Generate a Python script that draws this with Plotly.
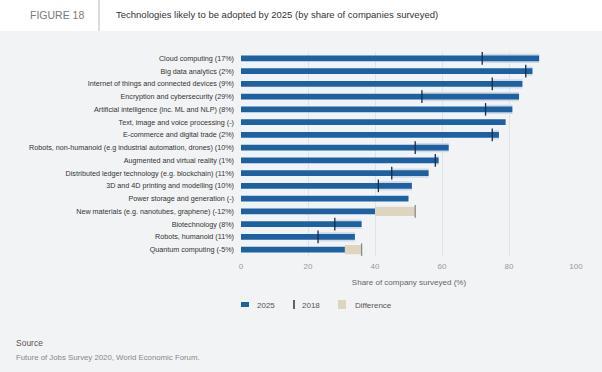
import plotly.graph_objects as go

categories = [
    "Cloud computing (17%)",
    "Big data analytics (2%)",
    "Internet of things and connected devices (9%)",
    "Encryption and cybersecurity (29%)",
    "Artificial intelligence (inc. ML and NLP) (8%)",
    "Text, image and voice processing (-)",
    "E-commerce and digital trade (2%)",
    "Robots, non-humanoid (e.g industrial automation, drones) (10%)",
    "Augmented and virtual reality (1%)",
    "Distributed ledger technology (e.g. blockchain) (11%)",
    "3D and 4D printing and modelling (10%)",
    "Power storage and generation (-)",
    "New materials (e.g. nanotubes, graphene) (-12%)",
    "Biotechnology (8%)",
    "Robots, humanoid (11%)",
    "Quantum computing (-5%)",
]
values_2025 = [89, 87, 84, 83, 81, 79, 77, 62, 59, 56, 51, 50, 40, 36, 34, 31]
values_2018 = [72, 85, 75, 54, 73, None, 75, 52, 58, 45, 41, None, 52, 28, 23, 36]
x_ticks = [0, 20, 40, 60, 80, 100]

BLUE = "#1c62a3"
BEIGE = "#ddd5c0"
HALO = "#d3d9df"
BG = "#f2f3f5"

# Difference bands
pos_cat, pos_base, pos_len = [], [], []
neg_cat, neg_base, neg_len = [], [], []
for c, a, b in zip(categories, values_2025, values_2018):
    if b is None:
        continue
    if a >= b:
        pos_cat.append(c); pos_base.append(b); pos_len.append(a - b)
    else:
        neg_cat.append(c); neg_base.append(a); neg_len.append(b - a)

fig = go.Figure()
fig.add_trace(go.Bar(y=pos_cat, x=pos_len, base=pos_base, orientation="h",
                     marker=dict(color=HALO, line=dict(width=0)), width=0.72,
                     showlegend=False, hoverinfo="skip"))
fig.add_trace(go.Bar(y=neg_cat, x=neg_len, base=neg_base, orientation="h",
                     marker=dict(color=BEIGE, line=dict(width=0)), width=0.72,
                     showlegend=False, hoverinfo="skip"))
fig.add_trace(go.Bar(y=categories, x=values_2025, orientation="h",
                     marker=dict(color=BLUE, line=dict(width=0)), width=0.47,
                     name="2025", showlegend=False))

pos_m_cat = [c for c, a, b in zip(categories, values_2025, values_2018) if b is not None and a >= b]
pos_m_val = [b for a, b in zip(values_2025, values_2018) if b is not None and a >= b]
neg_m_cat = [c for c, a, b in zip(categories, values_2025, values_2018) if b is not None and a < b]
neg_m_val = [b for a, b in zip(values_2025, values_2018) if b is not None and a < b]
fig.add_trace(go.Scatter(y=pos_m_cat, x=pos_m_val, mode="markers",
                         marker=dict(symbol="line-ns", size=9, line=dict(width=1.3, color="#172b4d")),
                         showlegend=False))
fig.add_trace(go.Scatter(y=neg_m_cat, x=neg_m_val, mode="markers",
                         marker=dict(symbol="line-ns", size=9, line=dict(width=1.3, color="#8a8a8a")),
                         showlegend=False))

# plot area in pixels
L, R, T, B = 241, 577, 52, 256
W, H = 602, 372

def px(x):
    return (x - L) / (R - L)

def py(y):
    return (B - y) / (B - T)

shapes = [
    dict(type="rect", xref="paper", yref="paper", x0=px(0), x1=px(W), y0=py(31), y1=py(0),
         fillcolor="white", line=dict(width=0), layer="below"),
    dict(type="line", xref="paper", yref="paper", x0=px(99), x1=px(99), y0=py(31), y1=py(0),
         line=dict(color="#d0d0d0", width=1.5)),
    # legend symbols
    dict(type="rect", xref="paper", yref="paper", x0=px(241), x1=px(249), y0=py(307), y1=py(302),
         fillcolor=BLUE, line=dict(width=0)),
    dict(type="line", xref="paper", yref="paper", x0=px(294), x1=px(294), y0=py(309), y1=py(300),
         line=dict(color="#333", width=1.5)),
    dict(type="rect", xref="paper", yref="paper", x0=px(338), x1=px(346), y0=py(309), y1=py(300),
         fillcolor=BEIGE, line=dict(width=0)),
]

FONT = "Liberation Sans, Arial, sans-serif"
annotations = [
    dict(text="FIGURE 18", x=px(28), y=py(15), xref="paper", yref="paper", xanchor="left",
         yanchor="middle", showarrow=False, font=dict(size=10.5, color="#7a7a7a", family=FONT)),
    dict(text="Technologies likely to be adopted by 2025 (by share of companies surveyed)",
         x=px(114), y=py(15), xref="paper", yref="paper", xanchor="left", yanchor="middle",
         showarrow=False, font=dict(size=9.5, color="#333", family=FONT)),
    dict(text="2025", x=px(255), y=py(305), xref="paper", yref="paper", xanchor="left",
         yanchor="middle", showarrow=False, font=dict(size=8, color="#555", family=FONT)),
    dict(text="2018", x=px(300), y=py(305), xref="paper", yref="paper", xanchor="left",
         yanchor="middle", showarrow=False, font=dict(size=8, color="#555", family=FONT)),
    dict(text="Difference", x=px(353), y=py(305), xref="paper", yref="paper", xanchor="left",
         yanchor="middle", showarrow=False, font=dict(size=8, color="#555", family=FONT)),
    dict(text="Source", x=px(14), y=py(343), xref="paper", yref="paper", xanchor="left",
         yanchor="middle", showarrow=False, font=dict(size=8.5, color="#555", family=FONT)),
    dict(text="Future of Jobs Survey 2020, World Economic Forum.", x=px(14), y=py(357),
         xref="paper", yref="paper", xanchor="left", yanchor="middle", showarrow=False,
         font=dict(size=7.8, color="#888", family=FONT)),
]

fig.update_layout(
    width=W, height=H,
    margin=dict(l=L, r=W - R, t=T, b=H - B, pad=0),
    paper_bgcolor=BG, plot_bgcolor=BG,
    barmode="overlay",
    font=dict(family=FONT, color="#444"),
    shapes=shapes, annotations=annotations,
    showlegend=False,
)
fig.update_xaxes(range=[0, 100.3], tickvals=x_ticks, showgrid=True, gridcolor="#e0e2e5",
                 gridwidth=1, zeroline=False, showline=False,
                 ticks="outside", ticklen=2, tickcolor="rgba(0,0,0,0)",
                 tickfont=dict(size=8, color="#999"), automargin=False,
                 title=dict(text="Share of company surveyed (%)", font=dict(size=8, color="#666"),
                            standoff=9))
fig.update_yaxes(range=[len(categories) - 0.5, -0.5], categoryorder="array",
                 categoryarray=categories, automargin=False,
                 showgrid=False, zeroline=False, showline=False,
                 tickfont=dict(size=7.2, color="#333"), ticklabelstandoff=6)

fig.write_html("out.html", config={"displayModeBar": False},
               post_script="document.body.style.margin='0';")
